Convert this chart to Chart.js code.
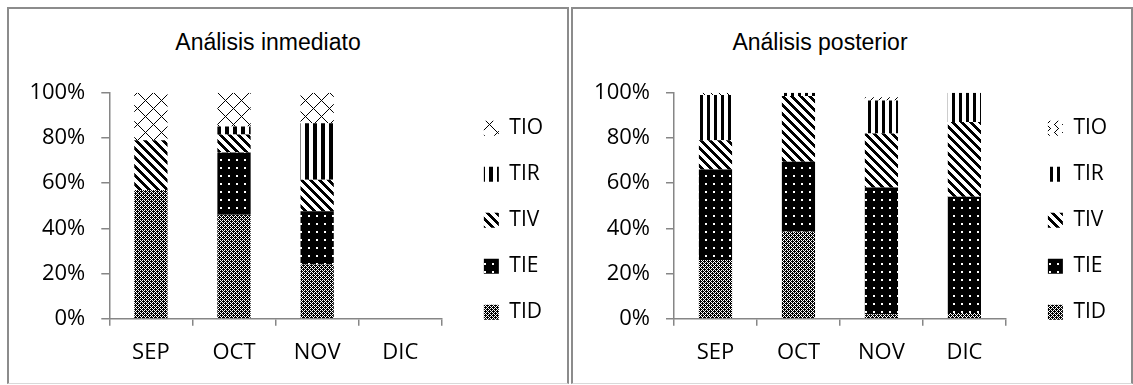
<!DOCTYPE html>
<html><head><meta charset="utf-8">
<script src="https://cdn.jsdelivr.net/npm/chart.js@4.4.0/dist/chart.umd.min.js"></script>
<style>
html,body{margin:0;padding:0;background:#fff;width:1133px;height:385px;overflow:hidden;}
.panel{position:absolute;box-sizing:border-box;border:2px solid #8c8c8c;border-bottom:1px solid #d9d9d9;}
.title{position:absolute;width:400px;text-align:center;font-family:'Liberation Sans',Arial,sans-serif;font-size:23px;line-height:23px;color:#000;white-space:nowrap;}
canvas{position:absolute;}
</style></head><body>
<div class="panel" style="left:7px;top:7px;width:562px;height:377px"></div>
<div class="panel" style="left:571px;top:7px;width:562px;height:377px"></div>
<div class="title" id="t1" style="left:68px;top:31px"></div>
<div class="title" id="t2" style="left:620px;top:31px"></div>
<canvas id="c1"></canvas><canvas id="c2"></canvas>
<script>
// ---- data ----
const categories = ['SEP', 'OCT', 'NOV', 'DIC'];
const seriesNames = ['TID', 'TIE', 'TIV', 'TIR', 'TIO'];
const yTickValues = [0, 20, 40, 60, 80, 100];
const yTickLabels = ['0%', '20%', '40%', '60%', '80%', '100%'];
const titleInmediato = 'Análisis inmediato';
const titlePosterior = 'Análisis posterior';

const inmTID = [57, 46, 24, null];
const inmTIE = [0, 27.5, 23.5, null];
const inmTIV = [22, 8, 14, null];
const inmTIR = [0, 3.5, 25, null];
const inmTIO = [21, 15, 13.5, null];

const posTID = [26, 38.5, 2, 2.5];
const posTIE = [40, 31, 56, 51.5];
const posTIV = [13, 29, 24, 33];
const posTIR = [20, 1.5, 14.5, 13];
const posTIO = [1, 0, 1.5, 0];

document.getElementById('t1').textContent = titleInmediato;
document.getElementById('t2').textContent = titlePosterior;

// ---- patterns ----
function makePattern(w, h, fn) {
  const c = document.createElement('canvas');
  c.width = w; c.height = h;
  const g = c.getContext('2d');
  const img = g.createImageData(w, h);
  for (let y = 0; y < h; y++) for (let x = 0; x < w; x++) {
    const i = (y * w + x) * 4;
    const v = fn(x, y) ? 0 : 255;
    img.data[i] = v; img.data[i + 1] = v; img.data[i + 2] = v; img.data[i + 3] = 255;
  }
  g.putImageData(img, 0, 0);
  return g.createPattern(c, 'repeat');
}
const tidRows = ['X.X.', '.XXX', 'X.X.', 'XX.X'];
const patTID = makePattern(4, 4, (x, y) => tidRows[y][x] === 'X');
const patTIE = makePattern(8, 8, (x, y) => !((x === 3 || x === 4) && (y === 3 || y === 4)));
const patTIV = makePattern(9, 9, (x, y) => ((x - y) % 9 + 9) % 9 < 4);
const patTIRa = makePattern(8, 1, (x) => x % 8 < 4);
const patTIRb = makePattern(7, 1, (x) => x % 7 < 3);
const patTIOa = makePattern(16, 16, (x, y) => (x + y) % 16 === 0 || ((x - y) % 16 + 16) % 16 === 0);
const patTIOb = makePattern(8, 8, (x, y) => x === (y < 4 ? y : 8 - y) && (x + y) % 2 === 0);

// ---- chart builder ----
Chart.defaults.font.family = "'Open Sans', sans-serif";
Chart.defaults.color = '#000';
const AXIS = '#868686';
const FS = 21, TFS = 22, PAD = 25, BOX = 15, TICKPAD_Y = 16, TICKPAD_X = 14;

function make(id, canvasLeft, axisX, chartRight, boxX, values, pats, legendW) {
  const legendLeft = boxX - PAD;
  const canvasRight = legendLeft + legendW;
  const width = Math.ceil(canvasRight - canvasLeft);
  const padR = width - (canvasRight - canvasLeft);
  const dummyW = legendLeft - chartRight;
  const yW = axisX - canvasLeft;
  const top = 60, height = 324;
  const lh = TFS * 1.2;
  const padTop = 92.7 - top;                       // chart area top at 92.7
  const xAxisH = 7 + lh + 2 * TICKPAD_X;
  const padBottom = (top + height) - 318.7 - xAxisH; // chart area bottom at 318.7
  const cv = document.getElementById(id);
  cv.width = width; cv.height = height;
  cv.style.left = canvasLeft + 'px'; cv.style.top = top + 'px';
  cv.style.width = width + 'px'; cv.style.height = height + 'px';
  const gridOpts = (tl) => ({display: true, drawOnChartArea: false, drawTicks: true, tickLength: tl, color: AXIS, lineWidth: 1.5});
  return new Chart(cv, {
    type: 'bar',
    data: {
      labels: categories,
      datasets: seriesNames.map((n, i) => ({
        label: n, data: values[i], backgroundColor: pats[i], borderWidth: 0,
        categoryPercentage: 0.4, barPercentage: 1
      }))
    },
    options: {
      responsive: false, animation: false, devicePixelRatio: 1,
      layout: {padding: {top: padTop, bottom: padBottom, left: 0, right: padR}},
      plugins: {
        legend: {position: 'right', align: 'start', reverse: true,
          labels: {boxWidth: BOX, boxHeight: BOX, padding: PAD, font: {size: FS}, color: '#000'}},
        tooltip: {enabled: false},
        title: {display: false}
      },
      scales: {
        x: {stacked: true, offset: true,
          grid: Object.assign(gridOpts(7), {offset: true}),
          border: {display: true, color: AXIS, width: 1.5},
          ticks: {font: {size: TFS}, color: '#000', padding: TICKPAD_X}},
        y: {stacked: true, min: 0, max: 100,
          grid: gridOpts(8),
          border: {display: true, color: AXIS, width: 1.5},
          ticks: {stepSize: 20, font: {size: TFS}, color: '#000', padding: TICKPAD_Y,
            callback: (v) => { const k = yTickValues.indexOf(v); return k >= 0 ? yTickLabels[k] : ''; }},
          afterFit: (s) => { s.width = yW; }},
        yR: {position: 'right', display: true,
          grid: {display: false}, border: {display: false}, ticks: {display: false},
          afterFit: (s) => { s.width = dummyW; }}
      }
    }
  });
}

function build(id, canvasLeft, axisX, chartRight, boxX, values, pats) {
  let ch = make(id, canvasLeft, axisX, chartRight, boxX, values, pats, 110);
  const lw = ch.legend.width;
  ch.destroy();
  return make(id, canvasLeft, axisX, chartRight, boxX, values, pats, lw);
}

build('c1', 9, 109.3, 439, 481,
  [inmTID, inmTIE, inmTIV, inmTIR, inmTIO],
  [patTID, patTIE, patTIV, patTIRa, patTIOa]);
build('c2', 574, 674, 1003, 1045,
  [posTID, posTIE, posTIV, posTIR, posTIO],
  [patTID, patTIE, patTIV, patTIRb, patTIOb]);
</script>
</body></html>
